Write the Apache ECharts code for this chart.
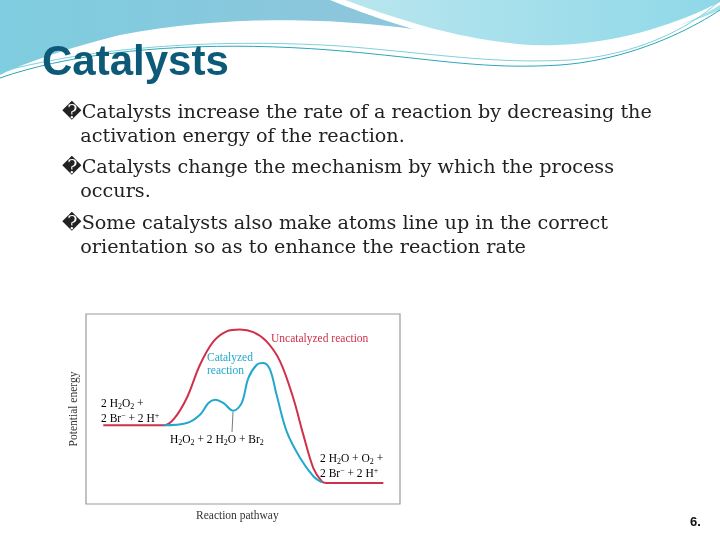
<!DOCTYPE html>
<html><head><meta charset="utf-8">
<script src="https://cdn.jsdelivr.net/npm/echarts@6/dist/echarts.min.js"></script>
<style>html,body{margin:0;padding:0;background:#fff}#c{width:720px;height:540px}</style>
</head><body><div id="c"></div>
<script>
const uncatX = [5.5,24.6,27.8,32.1,36.3,40.6,44.8,49.0,53.3,57.5,61.8,66.0,69.2,72.4,75.1,76.6,94.7];
const uncatY = [41.4,41.4,44.4,55.8,73.3,85.6,90.9,91.9,90.5,85.6,75.1,55.8,36.5,18.9,11.9,11.1,11.1];
const catX = [24.6,32.1,36.3,39.0,41.1,43.7,46.9,49.6,51.7,54.4,56.5,58.6,60.7,63.9,68.2,72.4,75.1];
const catY = [41.4,42.6,47.0,53.2,54.9,53.2,49.1,53.2,66.3,73.3,74.2,70.7,57.5,38.2,24.2,14.6,11.4];
const bullets = [
 ["\uFFFDCatalysts increase the rate of a reaction by decreasing the","activation energy of the reaction."],
 ["\uFFFDCatalysts change the mechanism by which the process","occurs."],
 ["\uFFFDSome catalysts also make atoms line up in the correct","orientation so as to enhance the reaction rate"]
];
function bz(start, segs){
 const pts=[start.slice()]; let p=start;
 segs.forEach(s=>{
  for(let i=1;i<=20;i++){const t=i/20,u=1-t;
   pts.push([u*u*u*p[0]+3*u*u*t*s[0]+3*u*t*t*s[2]+t*t*t*s[4], u*u*u*p[1]+3*u*u*t*s[1]+3*u*t*t*s[3]+t*t*t*s[5]]);}
  p=[s[4],s[5]];
 });
 return pts;
}
const chart = echarts.init(document.getElementById('c'));
const serif = '"DejaVu Serif","Liberation Serif",serif';
const lab = '"Liberation Serif",serif';
const rich = {n:{fontFamily:'Liberation Serif',fontSize:11.5,color:'#333'},s:{fontFamily:'Liberation Serif',fontSize:8,color:'#333',padding:[6,0,0,0]},p:{fontFamily:'Liberation Serif',fontSize:8,color:'#333',padding:[0,0,6,0]}};
const wave1 = [[0,0],[720,0],[720,10]].concat(bz([720,10],[[650,40,560,60,480,40],[380,20,250,10,120,35],[60,50,20,65,0,75]]));
const wave2 = [[720,0]].concat(bz([330,0],[[380,20,450,45,530,50],[610,55,680,30,720,5]]));
const wave3 = [[720,0]].concat(bz([345,0],[[400,20,460,40,530,45],[600,48,670,28,720,2]]));
const g = [
 {type:'polygon',shape:{points:wave1},style:{fill:new echarts.graphic.LinearGradient(0,0,1,0,[{offset:0,color:'#7fcde0'},{offset:0.5,color:'#8cc6dc'},{offset:1,color:'#a6e2ea'}])}},
 {type:'polygon',shape:{points:wave2},style:{fill:'#ffffff'}},
 {type:'polygon',shape:{points:wave3},style:{fill:new echarts.graphic.LinearGradient(0,0,1,0,[{offset:0,color:'#b9e6ee'},{offset:1,color:'#8fd8e8'}])}},
 {type:'polyline',shape:{points:bz([0,78],[[80,50,200,40,330,50],[430,58,480,70,560,65],[630,60,690,30,720,10]])},style:{fill:null,stroke:'#2aa6b8',lineWidth:1}},
 {type:'polyline',shape:{points:bz([0,72],[[90,48,210,38,340,46],[440,54,490,64,570,60],[640,55,695,25,720,0]])},style:{fill:null,stroke:'#7fd0dc',lineWidth:1}},
 {type:'text',left:42,top:42,style:{text:'Catalysts',font:'bold 42px "Liberation Sans",Arial,sans-serif',fill:'#0d5a78'}},
 {type:'text',left:690,top:516,style:{text:'6.',font:'bold 13px "Liberation Sans",Arial,sans-serif',fill:'#111'}},
 {type:'rect',shape:{x:86,y:314,width:314,height:190},style:{fill:null,stroke:'#999',lineWidth:1.2}},
 {type:'text',left:196,top:510,style:{text:'Reaction pathway',font:'11.5px '+lab,fill:'#333'}},
 {type:'text',x:74,y:409,rotation:Math.PI/2,style:{text:'Potential energy',font:'11.5px '+lab,fill:'#333',align:'center',verticalAlign:'middle'}},
 {type:'text',left:271,top:333,style:{text:'Uncatalyzed reaction',font:'11.5px '+lab,fill:'#d0304a'}},
 {type:'text',left:207,top:351,style:{text:'Catalyzed\nreaction',font:'11.5px '+lab,fill:'#22a8cc',lineHeight:13}},
 {type:'text',left:101,top:396,style:{text:'{n|2 H}{s|2}{n|O}{s|2}{n| +}\n{n|2 Br}{p|\u2212}{n| + 2 H}{p|+}',rich:rich,lineHeight:15}},
 {type:'text',left:170,top:434,style:{text:'{n|H}{s|2}{n|O}{s|2}{n| + 2 H}{s|2}{n|O + Br}{s|2}',rich:rich}},
 {type:'text',left:320,top:451,style:{text:'{n|2 H}{s|2}{n|O + O}{s|2}{n| +}\n{n|2 Br}{p|\u2212}{n| + 2 H}{p|+}',rich:rich,lineHeight:15}},
 {type:'line',shape:{x1:232,y1:432,x2:233,y2:412},style:{stroke:'#555',lineWidth:0.8}}
];
bullets.forEach((b,i)=>{
 g.push({type:'text',left:62,top:101+i*55.5,style:{text:b[0]+'\n   '+b[1],font:'19.2px '+serif,fill:'#222',lineHeight:24}});
});
chart.setOption({
 animation:false,
 grid:{left:86,top:314,width:314,height:190},
 xAxis:{type:'value',min:0,max:100,show:false},
 yAxis:{type:'value',min:0,max:100,show:false},
 series:[
  {type:'line',data:uncatX.map((x,i)=>[x,uncatY[i]]),smooth:0.35,showSymbol:false,lineStyle:{color:'#d0304a',width:2}},
  {type:'line',data:catX.map((x,i)=>[x,catY[i]]),smooth:0.35,showSymbol:false,lineStyle:{color:'#22a8cc',width:2}}
 ],
 graphic:g
});
</script></body></html>
